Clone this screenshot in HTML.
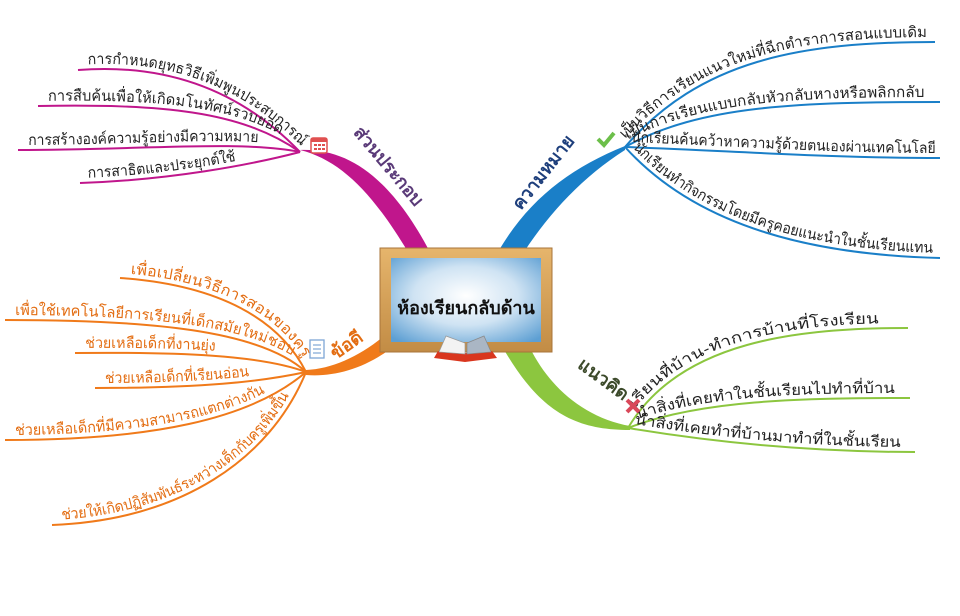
<!DOCTYPE html>
<html><head><meta charset="utf-8"><style>
html,body{margin:0;padding:0;background:#fff;width:960px;height:616px;overflow:hidden}
svg{display:block;font-family:"Liberation Sans","Noto Sans CJK SC",sans-serif}
</style></head><body>
<svg width="960" height="616" viewBox="0 0 960 616" xmlns="http://www.w3.org/2000/svg">
<defs>
<path id="m1" d="M78,70 C180,62 250,100 300,152"/>
<path id="m2" d="M38,106 C160,104 240,110 300,152"/>
<path id="m3" d="M18,150 C140,150 240,140 300,152"/>
<path id="m4" d="M80,183 C170,180 250,165 300,152"/>
<path id="b1" d="M625,147 C700,60 800,42 935,42"/>
<path id="b2" d="M625,147 C700,105 800,102 940,102"/>
<path id="b3" d="M625,147 C720,150 820,158 940,158"/>
<path id="b4" d="M625,147 C700,230 820,255 940,258"/>
<path id="g1" d="M628,428 C680,340 800,328 908,328"/>
<path id="g2" d="M628,428 C700,400 800,398 910,398"/>
<path id="g3" d="M628,428 C700,440 800,452 915,452"/>
<path id="o1" d="M120,278 C220,285 280,320 306,372"/>
<path id="o2" d="M5,320 C150,320 260,330 306,372"/>
<path id="o3" d="M75,353 C180,352 260,355 306,372"/>
<path id="o4" d="M95,388 C200,388 260,382 306,372"/>
<path id="o5" d="M5,440 C150,440 250,420 306,372"/>
<path id="o6" d="M52,525 C180,520 270,460 306,372"/>
<radialGradient id="bl" cx="0.5" cy="0.45" r="0.7">
<stop offset="0" stop-color="#ffffff"/><stop offset="0.5" stop-color="#cfe3f3"/><stop offset="1" stop-color="#5d9fd3"/></radialGradient>
<linearGradient id="wd" x1="0" y1="0" x2="0" y2="1"><stop offset="0" stop-color="#e6b56c"/><stop offset="1" stop-color="#c28c45"/></linearGradient>
</defs>

<path d="M300,150 C340,160 372,192 408,252 L430,252 C392,180 350,148 300,150 Z" fill="#c0168c"/>
<path d="M498,252 C528,200 570,168 625,146 L625,150 C584,176 550,212 524,252 Z" fill="#1a7fc8"/>
<path d="M503,348 C540,412 575,430 630,430 L630,426 C585,418 550,388 530,348 Z" fill="#8cc63f"/>
<path d="M306,370 C332,369 360,356 384,336 L386,352 C360,370 332,377 306,375 Z" fill="#f07a1a"/>

<g fill="none" stroke-width="2">
<use href="#m1" stroke="#c0168c"/><use href="#m2" stroke="#c0168c"/><use href="#m3" stroke="#c0168c"/><use href="#m4" stroke="#c0168c"/>
<use href="#b1" stroke="#1a7fc8"/><use href="#b2" stroke="#1a7fc8"/><use href="#b3" stroke="#1a7fc8"/><use href="#b4" stroke="#1a7fc8"/>
<use href="#g1" stroke="#8cc63f"/><use href="#g2" stroke="#8cc63f"/><use href="#g3" stroke="#8cc63f"/>
<use href="#o1" stroke="#f07a1a"/><use href="#o2" stroke="#f07a1a"/><use href="#o3" stroke="#f07a1a"/><use href="#o4" stroke="#f07a1a"/><use href="#o5" stroke="#f07a1a"/><use href="#o6" stroke="#f07a1a"/>
</g>

<g font-size="15" fill="#222">
<text dy="-5"><textPath href="#m1" startOffset="10" textLength="232" lengthAdjust="spacingAndGlyphs">การกำหนดยุทธวิธีเพิ่มพูนประสบการณ์</textPath></text>
<text dy="-5"><textPath href="#m2" startOffset="10" textLength="235" lengthAdjust="spacingAndGlyphs">การสืบค้นเพื่อให้เกิดมโนทัศน์รวบยอด</textPath></text>
<text dy="-5"><textPath href="#m3" startOffset="10" textLength="230" lengthAdjust="spacingAndGlyphs">การสร้างองค์ความรู้อย่างมีความหมาย</textPath></text>
<text dy="-5"><textPath href="#m4" startOffset="8" textLength="150" lengthAdjust="spacingAndGlyphs">การสาธิตและประยุกต์ใช้</textPath></text>
<text dy="-5"><textPath href="#b1" startOffset="6" textLength="325" lengthAdjust="spacingAndGlyphs">เป็นวิธีการเรียนแนวใหม่ที่ฉีกตำราการสอนแบบเดิม</textPath></text>
<text dy="-5"><textPath href="#b2" startOffset="6" textLength="300" lengthAdjust="spacingAndGlyphs">เป็นการเรียนแบบกลับหัวกลับหางหรือพลิกกลับ</textPath></text>
<text dy="-5"><textPath href="#b3" startOffset="6" textLength="305" lengthAdjust="spacingAndGlyphs">นักเรียนค้นคว้าหาความรู้ด้วยตนเองผ่านเทคโนโลยี</textPath></text>
<text dy="-5"><textPath href="#b4" startOffset="6" textLength="330" lengthAdjust="spacingAndGlyphs">นักเรียนทำกิจกรรมโดยมีครูคอยแนะนำในชั้นเรียนแทน</textPath></text>
<text dy="-5"><textPath href="#g1" startOffset="20" textLength="262" lengthAdjust="spacingAndGlyphs">เรียนที่บ้าน-ทำการบ้านที่โรงเรียน</textPath></text>
<text dy="-5"><textPath href="#g2" startOffset="12" textLength="258" lengthAdjust="spacingAndGlyphs">นำสิ่งที่เคยทำในชั้นเรียนไปทำที่บ้าน</textPath></text>
<text dy="-5"><textPath href="#g3" startOffset="6" textLength="268" lengthAdjust="spacingAndGlyphs">นำสิ่งที่เคยทำที่บ้านมาทำที่ในชั้นเรียน</textPath></text>
</g>
<g font-size="15" fill="#e36d12">
<text dy="-5"><textPath href="#o1" startOffset="10" textLength="195" lengthAdjust="spacingAndGlyphs">เพื่อเปลี่ยนวิธีการสอนของครู</textPath></text>
<text dy="-5"><textPath href="#o2" startOffset="10" textLength="280" lengthAdjust="spacingAndGlyphs">เพื่อใช้เทคโนโลยีการเรียนที่เด็กสมัยใหม่ชอบ</textPath></text>
<text dy="-5"><textPath href="#o3" startOffset="10" textLength="130" lengthAdjust="spacingAndGlyphs">ช่วยเหลือเด็กที่งานยุ่ง</textPath></text>
<text dy="-5"><textPath href="#o4" startOffset="10" textLength="145" lengthAdjust="spacingAndGlyphs">ช่วยเหลือเด็กที่เรียนอ่อน</textPath></text>
<text dy="-5"><textPath href="#o5" startOffset="10" textLength="258" lengthAdjust="spacingAndGlyphs">ช่วยเหลือเด็กที่มีความสามารถแตกต่างกัน</textPath></text>
<text dy="-5"><textPath href="#o6" startOffset="10" textLength="275" lengthAdjust="spacingAndGlyphs">ช่วยให้เกิดปฏิสัมพันธ์ระหว่างเด็กกับครูเพิ่มขึ้น</textPath></text>
</g>

<g font-size="18" font-weight="bold" text-anchor="middle">
<text transform="translate(384,170) rotate(50)" fill="#5a3a78">ส่วนประกอบ</text>
<text transform="translate(548,176) rotate(-52)" fill="#1e3f7c">ความหมาย</text>
<text transform="translate(600,384) rotate(36)" fill="#3c4a2a">แนวคิด</text>
<text transform="translate(350,350) rotate(-35)" fill="#e36d12">ข้อดี</text>
</g>

<g transform="translate(311,136)"><rect x="0" y="2" width="16" height="15" rx="2" fill="#fff" stroke="#e05050" stroke-width="1.5"/><rect x="0" y="2" width="16" height="4" fill="#e05050"/><g fill="#e05050"><rect x="3" y="8" width="3" height="2"/><rect x="7" y="8" width="3" height="2"/><rect x="11" y="8" width="3" height="2"/><rect x="3" y="12" width="3" height="2"/><rect x="7" y="12" width="3" height="2"/><rect x="11" y="12" width="3" height="2"/></g></g>
<path d="M598,139 L604,145 L614,133" fill="none" stroke="#6cbf4a" stroke-width="4"/>
<path d="M627,400 L639,412 M639,400 L627,412" stroke="#d9485a" stroke-width="4"/>
<g transform="translate(310,340)"><rect x="0" y="0" width="14" height="18" fill="#fff" stroke="#7ea6d6" stroke-width="1.3"/><g stroke="#7ea6d6" stroke-width="1.2"><line x1="3" y1="5" x2="11" y2="5"/><line x1="3" y1="9" x2="11" y2="9"/><line x1="3" y1="13" x2="11" y2="13"/></g></g>

<rect x="380" y="248" width="172" height="104" fill="url(#wd)" stroke="#a8743a"/>
<rect x="391" y="258" width="150" height="84" fill="url(#bl)"/>
<text x="466" y="314" font-size="18" font-weight="bold" text-anchor="middle" fill="#111">ห้องเรียนกลับด้าน</text>
<g transform="translate(434,332)">
<path d="M0,26 L4,19 L31,21 L58,19 L63,26 L31,30 Z" fill="#d9361e"/>
<path d="M5,20 L12,4 L31,11 L31,22 Z" fill="#f3f3f3" stroke="#999" stroke-width="0.7"/>
<path d="M57,20 L50,4 L33,11 L33,22 Z" fill="#aab6c4" stroke="#888" stroke-width="0.7"/>
</g>
</svg>
</body></html>
